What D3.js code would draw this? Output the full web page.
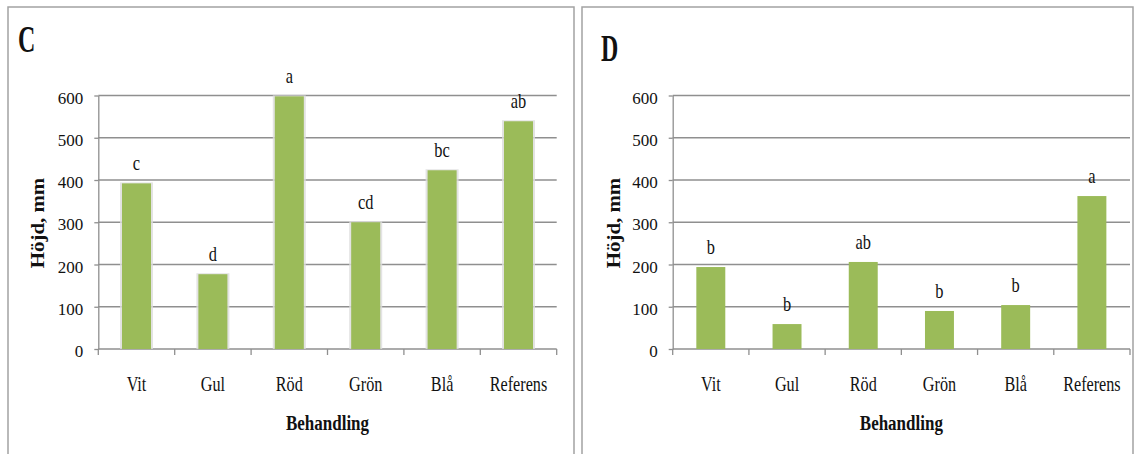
<!DOCTYPE html>
<html>
<head>
<meta charset="utf-8">
<script src="https://cdn.jsdelivr.net/npm/d3@7"></script>
<style>
  html, body { margin: 0; padding: 0; background: #fff; }
  svg { display: block; }
  text { font-family: "Liberation Serif", "Times New Roman", serif; fill: #111; }
</style>
</head>
<body>
<svg id="chart" width="1137" height="454"></svg>
<script>
// Treatment categories and mean plant heights (mm) for the two experiments
const categories = ["Vit", "Gul", "Röd", "Grön", "Blå", "Referens"];
const heightsC = [392, 177, 598, 300, 423, 539];
const lettersC = ["c", "d", "a", "cd", "bc", "ab"];
const heightsD = [194, 59, 206, 90, 104, 362];
const lettersD = ["b", "b", "ab", "b", "b", "a"];
const yTicks = [0, 100, 200, 300, 400, 500, 600];
const yTitle = "Höjd, mm";
const xTitle = "Behandling";

const svg = d3.select("#chart");
const BAR = "#9bbb59";
const GRID = "#8f8f8f";

// Text placed at (x,y) with optional rotation and horizontal squeeze
function label(g, x, y, str, o = {}) {
  return g.append("text")
    .attr("transform", `translate(${x},${y}) rotate(${o.rotate || 0}) scale(${o.sx || 1},1)`)
    .attr("text-anchor", o.anchor || "middle")
    .attr("font-size", o.size || 16)
    .attr("font-weight", o.weight || "normal")
    .text(str);
}

function panel(cfg) {
  const g = svg.append("g");

  // frame
  g.append("path")
    .attr("d", `M${cfg.frame[0]},460 V${cfg.frame[1]} H${cfg.frame[2]} V460`)
    .attr("fill", "none").attr("stroke", "#a3a3a3").attr("stroke-width", 1.5);

  const x = d3.scaleBand().domain(categories)
    .range([cfg.x0, cfg.x1]).paddingInner(0.62).paddingOuter(0.31);
  const y = d3.scaleLinear().domain([0, 600]).range([349, 95.5]);
  const step = x.step();
  const edge = c => x(c) - (step - x.bandwidth()) / 2;

  // horizontal gridlines
  g.append("g").selectAll("line").data(yTicks.filter(t => t > 0)).join("line")
    .attr("x1", cfg.x0).attr("x2", cfg.x1)
    .attr("y1", d => y(d)).attr("y2", d => y(d))
    .attr("stroke", GRID).attr("stroke-width", 1.3);

  // y axis
  const ya = g.append("g").attr("transform", `translate(${cfg.x0},0)`)
    .call(d3.axisLeft(y).tickValues(yTicks).tickSize(4).tickPadding(11).tickSizeOuter(0));
  ya.select(".domain").attr("stroke", GRID).attr("stroke-width", 1.3);
  ya.selectAll(".tick line").attr("stroke", GRID).attr("stroke-width", 1.3);
  ya.selectAll(".tick text").attr("font-size", 17).attr("font-family", "Liberation Serif")
    .attr("fill", "#111").attr("dy", "0.45em");

  // x axis baseline with ticks at category boundaries
  g.append("line").attr("x1", cfg.x0).attr("x2", cfg.x1)
    .attr("y1", y(0)).attr("y2", y(0)).attr("stroke", GRID).attr("stroke-width", 1.3);
  const bounds = categories.map(edge).concat([cfg.x1]);
  g.append("g").selectAll("line").data(bounds).join("line")
    .attr("x1", d => d).attr("x2", d => d)
    .attr("y1", y(0)).attr("y2", y(0) + 6)
    .attr("stroke", GRID).attr("stroke-width", 1.3);

  // bars (with faint glow on panel C)
  if (cfg.glow) {
    g.append("g").selectAll("rect").data(cfg.values).join("rect")
      .attr("x", (d, i) => x(categories[i]) - 2)
      .attr("width", x.bandwidth() + 4)
      .attr("y", d => y(d) - 1)
      .attr("height", d => y(0) - y(d) + 1)
      .attr("fill", "#dcdcdc").attr("opacity", 0.8);
  }
  g.append("g").selectAll("rect").data(cfg.values).join("rect")
    .attr("x", (d, i) => x(categories[i]))
    .attr("width", x.bandwidth())
    .attr("y", d => y(d))
    .attr("height", d => y(0) - y(d))
    .attr("fill", BAR);

  // significance letters
  cfg.values.forEach((v, i) => {
    label(g, x(categories[i]) + x.bandwidth() / 2, y(v) - 13, cfg.letters[i], { size: 20, sx: 0.82 });
  });

  // category labels
  categories.forEach(c => {
    label(g, x(c) + x.bandwidth() / 2, 391, c, { size: 21, sx: 0.77 });
  });

  // axis titles
  label(g, (cfg.x0 + cfg.x1) / 2, 430, xTitle, { size: 20, weight: "bold", sx: 0.85 });
  label(g, cfg.yTitleX, 223, yTitle, { size: 19, weight: "bold", rotate: -90, sx: 1.1 });

  // panel letter
  label(g, cfg.letterX, cfg.letterY, cfg.letter, { size: 38, weight: "bold", sx: 0.63, anchor: "start" });
}

panel({
  letter: "C", letterX: 18, letterY: 52,
  frame: [8, 7, 574], x0: 98.3, x1: 556.7, yTitleX: 44,
  values: heightsC, letters: lettersC, glow: true
});
panel({
  letter: "D", letterX: 601, letterY: 61,
  frame: [582, 7, 1133], x0: 672.7, x1: 1130, yTitleX: 620,
  values: heightsD, letters: lettersD, glow: false
});
</script>
</body>
</html>
